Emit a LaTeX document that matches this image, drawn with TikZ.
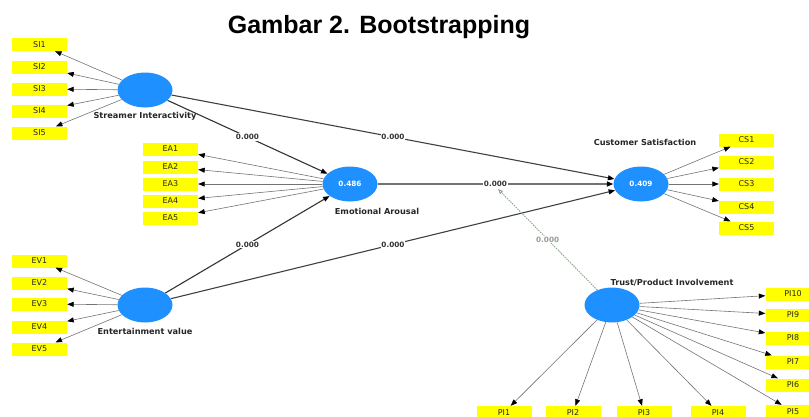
\documentclass[tikz,border=0pt]{standalone}
\usepackage{fontspec}
\setmainfont{DejaVu Sans}
\newfontfamily\titlefont{Liberation Sans}
\usetikzlibrary{arrows.meta,shapes.geometric}
\definecolor{lvblue}{RGB}{30,144,255}
\definecolor{mvyellow}{RGB}{255,255,0}
\definecolor{modgreen}{RGB}{140,165,140}
\tikzset{
  lv/.style={ellipse,fill=lvblue,draw=none,minimum width=55pt,minimum height=35pt,inner sep=0pt,
    text=white,font=\fontsize{7.3}{8}\selectfont\bfseries},
  mv/.style={rectangle,fill=mvyellow,draw=none,minimum width=55pt,minimum height=13pt,inner sep=0pt,
    text=black!85,font=\fontsize{8}{9}\selectfont},
  lvlabel/.style={font=\fontsize{8.2}{9}\selectfont\bfseries,text=black!85,inner sep=0pt},
  tip/.style={-{Triangle[length=6.5pt,width=5pt,color=black]}},
  ind/.style={tip,draw=black!55,line width=0.6pt},
  struct/.style={tip,draw=black!80,line width=1.1pt},
  coef/.style={fill=white,inner sep=0.8pt,font=\fontsize{7.3}{8}\selectfont\bfseries,text=black!80},
  modline/.style={-{Triangle[open,length=5pt,width=4pt]},draw=modgreen,line width=0.9pt,dash pattern=on 1.5pt off 1pt},
  modcoef/.style={fill=white,inner sep=0.8pt,font=\fontsize{7.3}{8}\selectfont\bfseries,text=black!40},
}
\begin{document}
\begin{tikzpicture}[x=1pt,y=-1pt]
\useasboundingbox (0,0) rectangle (809,416);
\clip (0,0) rectangle (809,416);
\node[anchor=base,font=\titlefont\fontsize{25}{28}\selectfont\bfseries] (title) at (379,33) {Gambar 2. Bootstrapping};

% latent variables
\node[lv] (SI) at (145,90) {};
\node[lv] (EA) at (350,184) {0.486};
\node[lv] (EV) at (145,305) {};
\node[lv] (CS) at (641,184) {0.409};
\node[lv] (PI) at (612,305) {};

\node[lvlabel] (SIl) at (145,116) {Streamer Interactivity};
\node[lvlabel] (EAl) at (377,211) {Emotional Arousal};
\node[lvlabel] (EVl) at (145,331) {Entertainment value};
\node[lvlabel] (CSl) at (645,142) {Customer Satisfaction};
\node[lvlabel] (PIl) at (672,283) {Trust/Product Involvement};

% indicators
\foreach \n/\y in {1/44.5,2/67,3/89,4/111,5/133}{
  \node[mv] (SI\n) at (39.5,\y) {SI\n};
  \draw[ind] (SI) -- (SI\n);
}
\foreach \n/\y in {1/149,2/167,3/184,4/201,5/218}{
  \node[mv] (EA\n) at (170.5,\y) {EA\n};
  \draw[ind] (EA) -- (EA\n);
}
\foreach \n/\y in {1/261,2/283,3/304,4/327,5/349}{
  \node[mv] (EV\n) at (39.5,\y) {EV\n};
  \draw[ind] (EV) -- (EV\n);
}
\foreach \n/\y in {1/140,2/162,3/184,4/207,5/228}{
  \node[mv] (CS\n) at (746.5,\y) {CS\n};
  \draw[ind] (CS) -- (CS\n);
}
\foreach \n/\y in {10/294,9/315,8/338,7/362,6/385,5/411.5}{
  \node[mv] (PI\n) at (793,\y) {PI\n};
  \draw[ind] (PI) -- (PI\n);
}
\foreach \n/\x in {1/504,2/573,3/644,4/718}{
  \node[mv] (PI\n) at (\x,412.5) {PI\n};
  \draw[ind] (PI) -- (PI\n);
}

% structural paths
\draw[struct] (SI) -- node[coef,pos=0.5] (c1) {0.000} (EA);
\draw[struct,draw=black!75] (SI) -- node[coef,pos=0.5] (c2) {0.000} (CS);
\draw[struct,draw=black!55,line width=1.5pt] (EA) -- node[coef,pos=0.5] (c3) {0.000} (CS);
\draw[struct] (EV) -- node[coef,pos=0.5] (c4) {0.000} (EA);
\draw[struct,draw=black!75] (EV) -- node[coef,pos=0.5] (c5) {0.000} (CS);

% moderating effect
\coordinate (mod) at (498,189);
\draw[modline] (PI) -- node[modcoef,pos=0.5] (c6) {0.000} (mod);
\end{tikzpicture}
\end{document}
